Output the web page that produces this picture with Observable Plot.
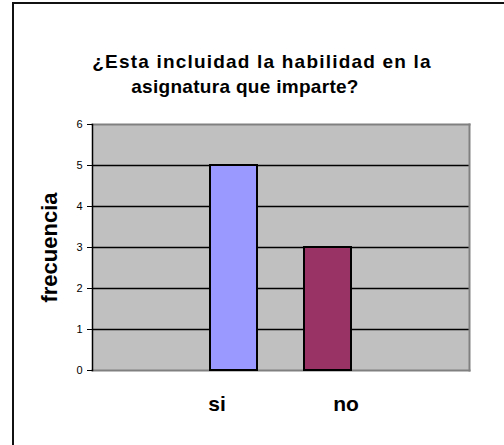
<!DOCTYPE html>
<html>
<head>
<meta charset="utf-8">
<script src="https://cdn.jsdelivr.net/npm/d3@7"></script>
<script src="https://cdn.jsdelivr.net/npm/@observablehq/plot@0.6"></script>
<style>
  html, body { margin: 0; padding: 0; background: #fff; }
  #wrap { position: relative; width: 504px; height: 445px; overflow: hidden; font-family: "Liberation Sans", Arial, sans-serif; }
  #border { position: absolute; left: 12px; top: 2px; right: -10px; bottom: -10px; border-left: 2px solid #111; border-top: 2px solid #111; }
  .tline { position: absolute; left: 0; width: 504px; text-align: center; font-weight: bold; font-size: 19px; line-height: 25px; color: #000; white-space: nowrap; }
  #t0 { top: 49px; margin-left: 10px; letter-spacing: 1.2px; }
  #t1 { top: 74px; margin-left: -7px; letter-spacing: 0.3px; }
  #chart { position: absolute; left: 0; top: 0; }
  #chart text.lbl { letter-spacing: 0.8px; }
</style>
</head>
<body>
<div id="wrap">
  <div id="border"></div>
  <div id="chart"></div>
  <div class="tline" id="t0"></div>
  <div class="tline" id="t1"></div>
</div>
<script>
const titleLines = ["¿Esta incluidad la habilidad en la", "asignatura que imparte?"];
const categories = ["si", "no"];
const frecuencia = [5, 3];
const barColors = ["#9999FF", "#993366"];
const yTicks = [0, 1, 2, 3, 4, 5, 6];
const yLabel = "frecuencia";

const data = categories.map((c, i) => ({cat: c, value: frecuencia[i]}));

titleLines.forEach((t, i) => { document.getElementById("t" + i).textContent = t; });

const labelStyle = {fontWeight: "bold", fill: "#000", className: "lbl"};

const chart = Plot.plot({
  width: 504,
  height: 445,
  marginLeft: 92,
  marginRight: 35,
  marginTop: 124,
  marginBottom: 75,
  style: {background: "transparent", fontFamily: "'Liberation Sans', Arial, sans-serif", overflow: "visible"},
  x: {domain: categories, paddingInner: 0.5, paddingOuter: 1.25, axis: null},
  y: {domain: [0, 6], axis: null},
  color: {domain: categories, range: barColors},
  marks: [
    Plot.frame({fill: "#c0c0c0", stroke: null}),
    Plot.ruleY(yTicks.filter(v => v > 0 && v < 6), {stroke: "#000", strokeWidth: 1.5}),
    Plot.frame({anchor: "top", stroke: "#808080", strokeWidth: 2}),
    Plot.frame({anchor: "right", stroke: "#808080", strokeWidth: 2}),
    Plot.frame({anchor: "bottom", stroke: "#808080", strokeWidth: 2}),
    Plot.barY(data, {x: "cat", y: "value", fill: "cat", stroke: "#000", strokeWidth: 2}),
    Plot.axisY({ticks: yTicks, tickFormat: d3.format("d"), tickSize: 5, tickPadding: 5, fontSize: 11, label: null, stroke: "#000"}),
    Plot.frame({anchor: "left", stroke: "#000", strokeWidth: 1.5}),
    Plot.text(data.filter(d => d.cat === "si"), {x: "cat", text: "cat", frameAnchor: "bottom", dy: 40, dx: -17, fontSize: 21, ...labelStyle}),
    Plot.text(data.filter(d => d.cat === "no"), {x: "cat", text: "cat", frameAnchor: "bottom", dy: 40, dx: 18, fontSize: 21, ...labelStyle}),
    Plot.text([yLabel], {text: d => d, frameAnchor: "left", textAnchor: "middle", dx: -43, rotate: -90, fontSize: 22, ...labelStyle})
  ]
});
document.getElementById("chart").appendChild(chart);
</script>
</body>
</html>
